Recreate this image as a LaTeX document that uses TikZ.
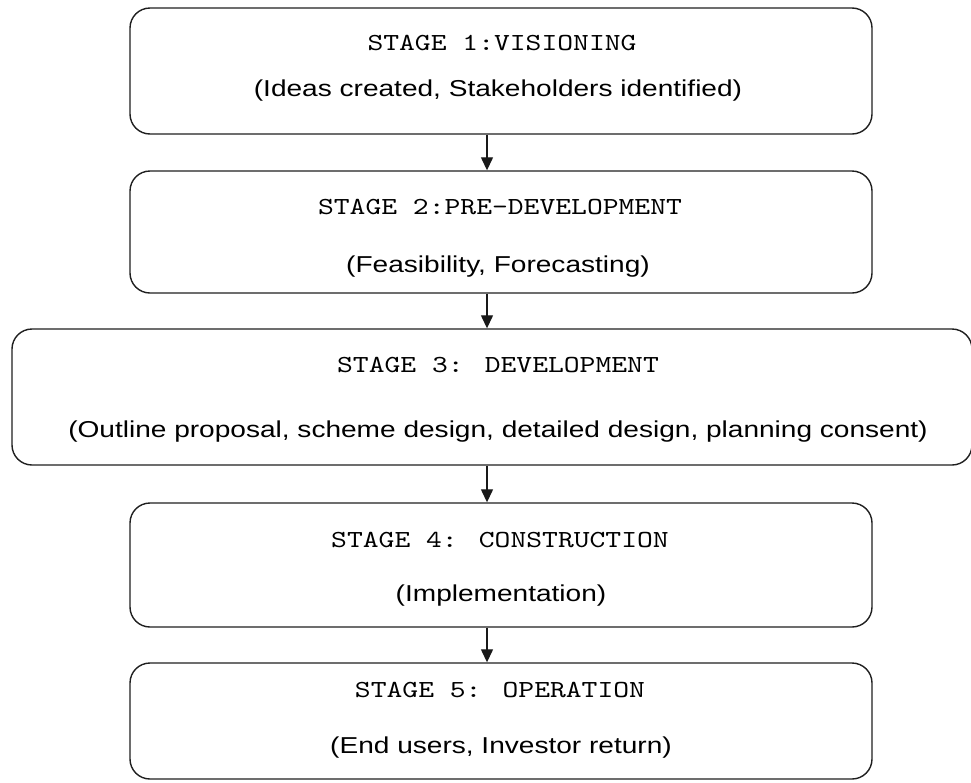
\documentclass[tikz,border=0pt]{standalone}
\usepackage{fontspec}
\usetikzlibrary{arrows.meta}
\newfontfamily\bodyfont[FakeStretch=1.22]{Liberation Sans}
\newfontfamily\stagefont[FakeStretch=1.23]{lmmono10-regular.otf}
\begin{document}
\begin{tikzpicture}[x=1pt,y=-1pt,
  stagebox/.style={draw=black!88, line width=1.4pt, rounded corners=20pt,
    rectangle, inner sep=0pt, minimum width=742pt},
  stagetitle/.style={anchor=base, inner sep=0pt, font=\stagefont\fontsize{24.5}{26}\selectfont},
  stagebody/.style={anchor=base, inner sep=0pt, font=\bodyfont\fontsize{23}{26}\selectfont},
  flow/.style={draw=black!90, line width=1.3pt, -{Triangle[width=12pt,length=13pt]}}]
  \useasboundingbox (0,0) rectangle (971,782);

  % stage boxes
  \node[stagebox, minimum height=126pt] (s1) at (501,71) {};
  \node[stagebox, minimum height=122pt] (s2) at (501,232) {};
  \node[stagebox, minimum height=136pt, minimum width=960pt] (s3) at (492,397) {};
  \node[stagebox, minimum height=124pt] (s4) at (501,565) {};
  \node[stagebox, minimum height=116pt] (s5) at (501,721) {};

  % titles and descriptions
  \node[stagetitle] (t1) at (502,50)  {STAGE 1:VISIONING};
  \node[stagebody]  (b1) at (498,96)  {(Ideas created, Stakeholders identified)};
  \node[stagetitle] (t2) at (500,214) {STAGE 2:PRE-DEVELOPMENT};
  \node[stagebody]  (b2) at (498,272) {(Feasibility, Forecasting)};
  \node[stagetitle] (t3) at (498,372) {STAGE 3: DEVELOPMENT};
  \node[stagebody]  (b3) at (498,437) {(Outline proposal, scheme design, detailed design, planning consent)};
  \node[stagetitle] (t4) at (500,547) {STAGE 4: CONSTRUCTION};
  \node[stagebody]  (b4) at (501,601) {(Implementation)};
  \node[stagetitle] (t5) at (500,697) {STAGE 5: OPERATION};
  \node[stagebody]  (b5) at (501,753) {(End users, Investor return)};

  % connectors down the middle
  \coordinate (ax) at (487,0);
  \draw[flow] (s1.south -| ax) -- (s2.north -| ax);
  \draw[flow] (s2.south -| ax) -- (s3.north -| ax);
  \draw[flow] (s3.south -| ax) -- (s4.north -| ax);
  \draw[flow] (s4.south -| ax) -- (s5.north -| ax);
\end{tikzpicture}
\end{document}
